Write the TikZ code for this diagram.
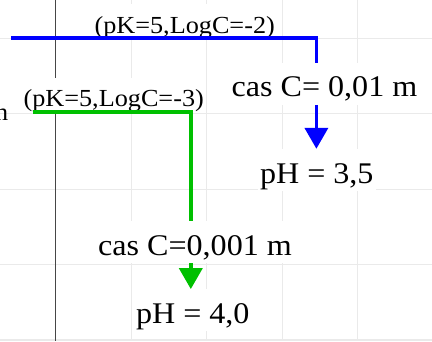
\documentclass[tikz,border=0pt]{standalone}
\usepackage{fontspec}
\setmainfont{Liberation Serif}[FakeStretch=1.07]
\usetikzlibrary{arrows.meta}

\definecolor{caseblue}{RGB}{0,0,255}
\definecolor{casegreen}{RGB}{0,192,0}
\definecolor{gridgray}{RGB}{234,234,234}
\definecolor{axisgray}{RGB}{70,70,70}

\tikzset{
  gridline/.style={gridgray, line width=1.3pt},
  axisline/.style={axisgray, line width=1.2pt},
  parlabel/.style={anchor=base, fill=white, inner xsep=2pt, inner ysep=3pt,
    text height=26pt, text depth=0pt, font=\fontsize{24.5}{29}\selectfont},
  caselabel/.style={anchor=base, fill=white, inner xsep=2pt, inner ysep=6pt,
    text height=28pt, text depth=2pt, font=\fontsize{30}{36}\selectfont},
  pathline/.style={line width=3.8pt},
  patharrow/.style={line width=3.8pt, -{Triangle[width=23pt, length=21pt]}}
}

\begin{document}
\begin{tikzpicture}[x=1pt, y=-1pt]

  \useasboundingbox (0,0) rectangle (432,341);

  % Background grid and axis
  \foreach \gx in {131.2, 206.7, 282.2, 357.7}
    \draw[gridline] (\gx,0) -- (\gx,341);
  \foreach \gy in {38.3, 113.8, 189.3, 264.8, 340}
    \draw[gridline] (0,\gy) -- (432,\gy);
  \draw[axisline] (55.7,0) -- (55.7,341);

  % Cut-off text at the left edge
  \node[anchor=base east, inner sep=0pt, font=\fontsize{24.5}{29}\selectfont]
    (cutn) at (8.5,120) {n};

  % Parameter labels
  \node[parlabel] (bpar) at (184.7,33) {(pK=5,LogC=-2)};
  \node[parlabel] (gpar) at (113.7,106.5) {(pK=5,LogC=-3)};

  % Case and result labels
  \node[caselabel] (bcas) at (324.5,96.7) {cas C= 0,01 m};
  \node[caselabel] (bph)  at (316.8,183)  {pH = 3,5};
  \node[caselabel] (gcas) at (195,255)    {cas C=0,001 m};
  \node[caselabel] (gph)  at (192.8,323.3) {pH = 4,0};

  % Path corners
  \coordinate (bstart) at (11,38.3);
  \coordinate (bturn)  at (316.4,38.3);
  \coordinate (gstart) at (33.3,111.7);
  \coordinate (gturn)  at (190.8,111.7);

  % Blue case: C = 0,01 m
  \draw[pathline, caseblue] (bstart) -- (bturn) -- (bturn |- bcas.north);
  \draw[patharrow, caseblue] (bturn |- bcas.south) -- (bturn |- bph.north);

  % Green case: C = 0,001 m
  \draw[pathline, casegreen] (gstart) -- (gturn) -- (gturn |- gcas.north);
  \draw[patharrow, casegreen] (gturn |- gcas.south) -- (gturn |- gph.north);

\end{tikzpicture}
\end{document}
